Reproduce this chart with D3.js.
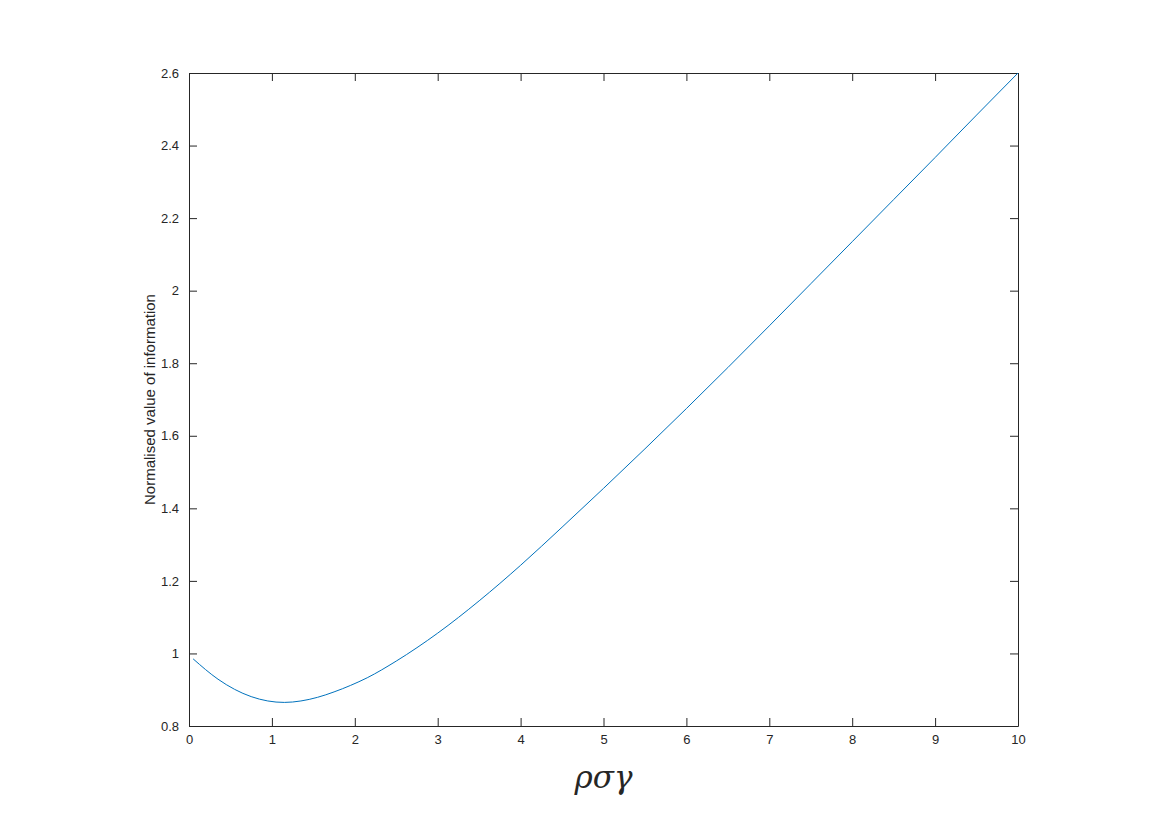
<!DOCTYPE html>
<html>
<head>
<meta charset="utf-8">
<script src="https://cdn.jsdelivr.net/npm/d3@7"></script>
<style>
	body { margin: 0; background: #fff; }
	text { font-family: "Liberation Sans", Arial, sans-serif; fill: #262626; }
</style>
</head>
<body>
<script>

let width = 1170;
let height = 827;

let margins = {
	top: 73,
	right: 152,
	bottom: 101,
	left: 189
};

// Values
let xValues = [0.05, 0.35, 0.55, 0.75, 0.95, 1.15, 1.35, 1.55, 1.75, 1.95, 2.15, 2.5, 3.0, 3.5, 4.0, 4.5, 5.0, 5.5, 6.0, 6.5, 7.0, 7.5, 8.0, 8.5, 9.0, 9.5, 10.0];
let yValues = [0.985, 0.929, 0.901, 0.881, 0.869, 0.865, 0.869, 0.879, 0.894, 0.912, 0.933, 0.979, 1.056, 1.145, 1.243, 1.348, 1.455, 1.564, 1.675, 1.788, 1.903, 2.019, 2.135, 2.251, 2.367, 2.484, 2.600];

let xTicks = [0, 1, 2, 3, 4, 5, 6, 7, 8, 9, 10];
let yTicks = [0.8, 1, 1.2, 1.4, 1.6, 1.8, 2, 2.2, 2.4, 2.6];

let xScale = d3.scaleLinear()
	.range([margins.left, width - margins.right])
	.domain([0, 10]);

let yScale = d3.scaleLinear()
	.range([height - margins.bottom, margins.top])
	.domain([0.8, 2.6]);

let fmt = d => String(d);

let svg = d3.select("body")
	.append("svg")
		.attr("width", width)
		.attr("height", height);

// Axes (ticks pointing inwards, box on all sides)
let tickLen = 8;

svg.append("g")
	.attr("class", "x axis")
	.attr("transform", "translate(0," + (height - margins.bottom) + ")")
	.call(d3.axisBottom(xScale).tickValues(xTicks).tickFormat(fmt).tickSizeInner(-tickLen).tickSizeOuter(0).tickPadding(9));

svg.append("g")
	.attr("class", "x axis top")
	.attr("transform", "translate(0," + margins.top + ")")
	.call(d3.axisTop(xScale).tickValues(xTicks).tickFormat("").tickSizeInner(-tickLen).tickSizeOuter(0));

svg.append("g")
	.attr("class", "y axis")
	.attr("transform", "translate(" + margins.left + ",0)")
	.call(d3.axisLeft(yScale).tickValues(yTicks).tickFormat(fmt).tickSizeInner(-tickLen).tickSizeOuter(0).tickPadding(10));

svg.append("g")
	.attr("class", "y axis right")
	.attr("transform", "translate(" + (width - margins.right) + ",0)")
	.call(d3.axisRight(yScale).tickValues(yTicks).tickFormat("").tickSizeInner(-tickLen).tickSizeOuter(0));

svg.selectAll(".axis path").style("stroke", "#262626").style("stroke-width", "1px");
svg.selectAll(".axis line").style("stroke", "#262626").style("stroke-width", "1px");
svg.selectAll(".axis text")
	.style("font-family", "'Liberation Sans', Arial, sans-serif")
	.style("font-size", "13px")
	.style("fill", "#262626");

// Line
let points = xValues.map((x, i) => ({x: x, y: yValues[i]}));

let line = d3.line()
	.x(d => xScale(d.x))
	.y(d => yScale(d.y))
	.curve(d3.curveMonotoneX);

svg.append("path")
	.datum(points)
	.attr("class", "line")
	.attr("d", line)
	.style("fill", "none")
	.style("stroke", "#0072BD")
	.style("stroke-width", "1px");

// Labels
svg.append("text")
	.attr("transform", "translate(155," + ((margins.top + height - margins.bottom) / 2) + ") rotate(-90)")
	.attr("text-anchor", "middle")
	.style("font-size", "15px")
	.text("Normalised value of information");

svg.append("text")
	.attr("x", (margins.left + width - margins.right) / 2)
	.attr("y", 788)
	.attr("text-anchor", "middle")
	.style("font-family", "'DejaVu Serif', serif")
	.style("font-size", "31px")
	.style("font-style", "italic")
	.text("ρσγ");

</script>
</body>
</html>
